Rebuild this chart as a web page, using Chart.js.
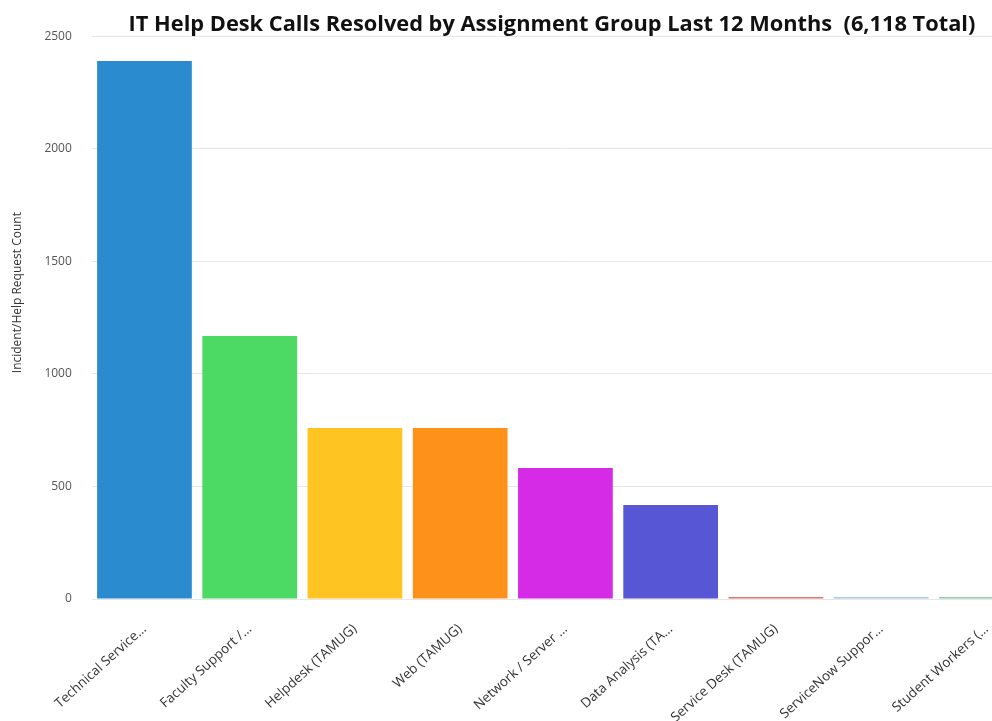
<!DOCTYPE html>
<html>
<head>
<meta charset="utf-8">
<script src="https://cdn.jsdelivr.net/npm/chart.js@4"></script>
<style>
  html, body { margin: 0; padding: 0; background: #fff; overflow: hidden; }
  #wrap { width: 1104px; height: 721px; }
</style>
</head>
<body>
<div id="wrap"><canvas id="callsChart"></canvas></div>
<script>
// categories (labels are truncated as in the source report)
const groups = ['Technical Service…', 'Faculty Support /…', 'Helpdesk (TAMUG)', 'Web (TAMUG)',
  'Network / Server …', 'Data Analysis (TA…', 'Service Desk (TAMUG)', 'ServiceNow Suppor…', 'Student Workers (…'];
// resolved calls per group
const resolved = [2390, 1168, 760, 760, 582, 418, 8, 6, 6];
const barColors = ['#2b8bcf', '#4cd964', '#fec422', '#fd911a', '#d52ae6', '#5757d5', '#d9776e', '#a9c6e6', '#8ec9a8'];
const yTicks = [0, 500, 1000, 1500, 2000, 2500];

const ctx = document.getElementById('callsChart').getContext('2d');
const callsChart = new Chart(ctx, {
    type: 'bar',
    data: {
        labels: groups,
        datasets: [{
            label: 'Calls Resolved',
            data: resolved,
            backgroundColor: barColors,
            borderWidth: 0,
            barPercentage: 0.9,
            categoryPercentage: 1.0,
            minBarLength: 2
        }]
    },
    options: {
        responsive: true,
        maintainAspectRatio: false,
        animation: false,
        layout: { padding: 0 },
        plugins: {
            legend: { display: false },
            tooltip: { enabled: false },
            title: {
                display: true,
                text: 'IT Help Desk Calls Resolved by Assignment Group Last 12 Months  (6,118 Total)',
                color: '#111',
                font: { family: 'Open Sans', size: 21.8, weight: 'bold' },
                padding: { top: 12, bottom: -2 }
            }
        },
        scales: {
            x: {
                grid: { display: false },
                border: { display: false },
                afterFit: axis => { axis.height = 122; },
                ticks: {
                    autoSkip: false,
                    maxRotation: 42,
                    minRotation: 42,
                    padding: 14,
                    color: '#333',
                    font: { family: 'Open Sans', size: 13.5 }
                }
            },
            y: {
                min: 0,
                max: 2500,
                afterBuildTicks: axis => { axis.ticks = yTicks.map(v => ({ value: v })); },
                grid: { color: '#e6e6e6', drawTicks: false },
                border: { display: false },
                ticks: {
                    padding: 20,
                    color: '#555',
                    font: { family: 'Open Sans', size: 12 },
                    callback: v => String(v)
                },
                title: {
                    display: true,
                    // leading spaces nudge the label up, as in the source
                    text: '                Incident/Help Request Count',
                    color: '#333',
                    font: { family: 'Open Sans', size: 12 },
                    padding: { top: 10, bottom: 0 }
                }
            },
            yRight: {
                position: 'right',
                display: true,
                grid: { display: false },
                border: { display: false },
                ticks: { display: false },
                afterFit: axis => { axis.width = 65; }
            }
        }
    }
});
</script>
</body>
</html>
